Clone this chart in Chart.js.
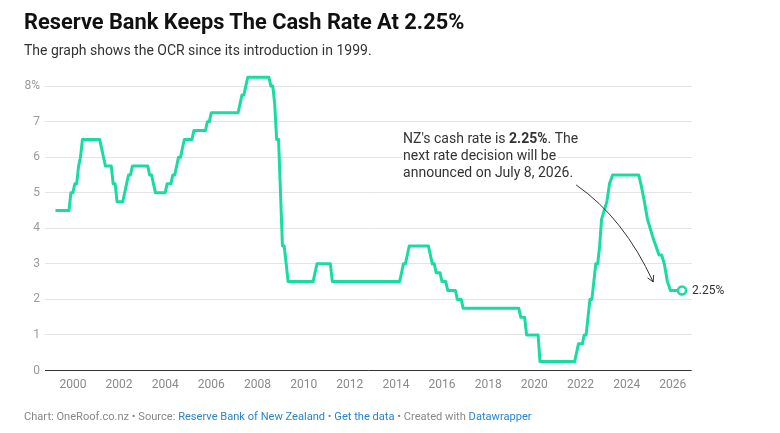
<!DOCTYPE html>
<html>
<head>
<meta charset="utf-8">
<script src="https://cdn.jsdelivr.net/npm/chart.js@4.4.1/dist/chart.umd.min.js"></script>
<style>
  html, body { margin: 0; padding: 0; background: #fff; }
  #wrap { position: relative; width: 780px; height: 433px; overflow: hidden; font-family: Roboto, "Noto Sans", sans-serif; }
  #chartBox { position: absolute; left: 0; top: 0; width: 780px; height: 433px; }
  .title { position: absolute; left: 24px; top: 11px; font-size: 21.8px; line-height: 22px; font-weight: 700; color: #111; white-space: nowrap; }
  .subtitle { position: absolute; left: 24px; top: 43px; font-size: 14px; line-height: 14px; color: #333; white-space: nowrap; }
  .footer { position: absolute; left: 24px; top: 411px; font-size: 11.1px; line-height: 11px; color: #888; white-space: nowrap; }
  .footer a { color: #2a84cc; text-decoration: none; }
</style>
</head>
<body>
<div id="wrap">
  <div id="chartBox"><canvas id="c"></canvas></div>
  <div class="title">Reserve Bank Keeps The Cash Rate At 2.25%</div>
  <div class="subtitle">The graph shows the OCR since its introduction in 1999.</div>
  <div class="footer">Chart: OneRoof.co.nz • Source: <a>Reserve Bank of New Zealand</a> • <a>Get the data</a> • Created with <a>Datawrapper</a></div>
</div>
<script>
// ---- data ----
const dates = [
  '1999-03-31','1999-10-31','1999-11-30','1999-12-31','2000-01-31','2000-02-29','2000-03-31','2000-04-30','2000-05-31',
  '2001-02-28','2001-03-31','2001-04-30','2001-05-31','2001-08-31','2001-09-30','2001-10-31','2001-11-30',
  '2002-02-28','2002-03-31','2002-04-30','2002-05-31','2002-06-30','2002-07-31',
  '2003-03-31','2003-04-30','2003-05-31','2003-06-30','2003-07-31','2003-12-31',
  '2004-01-31','2004-03-31','2004-04-30','2004-05-31','2004-06-30','2004-07-31','2004-08-31','2004-09-30','2004-10-31',
  '2005-02-28','2005-03-31','2005-09-30','2005-10-31','2005-11-30','2005-12-31',
  '2007-02-28','2007-03-31','2007-04-30','2007-05-31','2007-06-30','2007-07-31',
  '2008-06-30','2008-07-31','2008-08-31','2008-09-30','2008-10-31','2008-11-30','2008-12-31',
  '2009-01-31','2009-02-28','2009-03-31','2009-04-30',
  '2010-05-31','2010-06-30','2010-07-31','2011-02-28','2011-03-31',
  '2014-02-28','2014-03-31','2014-04-30','2014-05-31','2014-06-30','2014-07-31',
  '2015-05-31','2015-06-30','2015-07-31','2015-08-31','2015-09-30','2015-11-30','2015-12-31',
  '2016-02-29','2016-03-31','2016-07-31','2016-08-31','2016-10-31','2016-11-30',
  '2019-04-30','2019-05-31','2019-07-31','2019-08-31','2020-02-29','2020-03-31',
  '2021-09-30','2021-10-31','2021-11-30','2022-01-31','2022-02-28','2022-03-31','2022-04-30','2022-05-31',
  '2022-06-30','2022-07-31','2022-08-31','2022-09-30','2022-10-31','2022-11-30',
  '2023-02-22','2023-04-05','2023-05-24','2024-07-10','2024-08-14','2024-10-09','2024-11-27',
  '2025-02-19','2025-04-09','2025-05-28','2025-07-09','2025-08-20','2025-10-08','2025-11-26','2026-05-27'
];
const ocr = [
  4.50,4.50,5.00,5.00,5.25,5.25,5.75,6.00,6.50,
  6.50,6.25,6.00,5.75,5.75,5.25,5.25,4.75,
  4.75,5.00,5.25,5.50,5.50,5.75,
  5.75,5.50,5.50,5.25,5.00,5.00,
  5.25,5.25,5.50,5.50,5.75,6.00,6.00,6.25,6.50,
  6.50,6.75,6.75,7.00,7.00,7.25,
  7.25,7.50,7.75,7.75,8.00,8.25,
  8.25,8.00,8.00,7.50,6.50,6.50,5.00,
  3.50,3.50,3.00,2.50,
  2.50,2.75,3.00,3.00,2.50,
  2.50,2.75,3.00,3.00,3.25,3.50,
  3.50,3.25,3.00,3.00,2.75,2.75,2.50,
  2.50,2.25,2.25,2.00,2.00,1.75,
  1.75,1.50,1.50,1.00,1.00,0.25,
  0.25,0.50,0.75,0.75,1.00,1.00,1.50,2.00,
  2.00,2.50,3.00,3.00,3.50,4.25,
  4.75,5.25,5.50,5.50,5.25,4.75,4.25,
  3.75,3.50,3.25,3.25,3.00,2.50,2.25,2.25
];
const xTickYears = [2000,2002,2004,2006,2008,2010,2012,2014,2016,2018,2020,2022,2024,2026];
const yTickValues = [0,1,2,3,4,5,6,7,8];
const xMin = 1998.79, xMax = 2026.82, yMin = 0, yMax = 8.25;
const endLabel = '2.25%';
const noteLines = [
  [{t: "NZ's cash rate is ", b: false}, {t: '2.25%', b: true}, {t: '. The', b: false}],
  [{t: 'next rate decision will be', b: false}],
  [{t: 'announced on July 8, 2026.', b: false}]
];
// annotation anchors in data units (year, rate)
const noteAnchor = {x: 2014.31, y: 6.41};
const arrowFrom = {x: 2021.81, y: 5.22};
const arrowCtrl = {x: 2023.88, y: 4.29};
const arrowTo = {x: 2025.15, y: 2.49};

// ---- helpers ----
function toYear(d) {
  const [y, m, day] = d.split('-').map(Number);
  const s = Date.UTC(y, 0, 1), e = Date.UTC(y + 1, 0, 1);
  return y + (Date.UTC(y, m - 1, day) - s) / (e - s);
}
const points = dates.map((d, i) => ({x: toYear(d), y: ocr[i]}));
const GREEN = '#1adca3';
const FONT = 'Roboto, "Noto Sans", sans-serif';

const overlay = {
  id: 'overlay',
  afterDatasetsDraw(chart) {
    const {ctx, scales: {x, y}} = chart;
    ctx.save();
    // arrow
    const p0 = {x: x.getPixelForValue(arrowFrom.x), y: y.getPixelForValue(arrowFrom.y)};
    const pc = {x: x.getPixelForValue(arrowCtrl.x), y: y.getPixelForValue(arrowCtrl.y)};
    const p1 = {x: x.getPixelForValue(arrowTo.x), y: y.getPixelForValue(arrowTo.y)};
    ctx.strokeStyle = '#333';
    ctx.lineWidth = 1;
    ctx.beginPath();
    ctx.moveTo(p0.x, p0.y);
    ctx.quadraticCurveTo(pc.x, pc.y, p1.x, p1.y);
    ctx.stroke();
    const ang = Math.atan2(p1.y - pc.y, p1.x - pc.x);
    const L = 7, spread = 0.5;
    ctx.beginPath();
    ctx.moveTo(p1.x - L * Math.cos(ang - spread), p1.y - L * Math.sin(ang - spread));
    ctx.lineTo(p1.x, p1.y);
    ctx.lineTo(p1.x - L * Math.cos(ang + spread), p1.y - L * Math.sin(ang + spread));
    ctx.stroke();

    // note text with white halo
    const tx = x.getPixelForValue(noteAnchor.x);
    let ty = y.getPixelForValue(noteAnchor.y);
    ctx.textBaseline = 'alphabetic';
    ctx.textAlign = 'left';
    ctx.lineJoin = 'round';
    noteLines.forEach(line => {
      let cx = tx;
      line.forEach(seg => {
        ctx.font = (seg.b ? '700 ' : '400 ') + '14px ' + FONT;
        ctx.strokeStyle = '#fff';
        ctx.lineWidth = 4;
        ctx.strokeText(seg.t, cx, ty);
        ctx.fillStyle = '#333';
        ctx.fillText(seg.t, cx, ty);
        cx += ctx.measureText(seg.t).width;
      });
      ty += 17;
    });

    // end label
    const last = points[points.length - 1];
    ctx.font = '400 12px ' + FONT;
    ctx.textBaseline = 'middle';
    ctx.fillStyle = '#333';
    ctx.fillText(endLabel, x.getPixelForValue(last.x) + 10, y.getPixelForValue(last.y));
    ctx.restore();
  }
};

new Chart(document.getElementById('c'), {
  type: 'line',
  data: {
    datasets: [{
      data: points,
      borderColor: GREEN,
      borderWidth: 3,
      borderJoinStyle: 'round',
      tension: 0,
      clip: false,
      pointRadius: c => c.dataIndex === points.length - 1 ? 4 : 0,
      pointHoverRadius: 0,
      pointBackgroundColor: '#fff',
      pointBorderColor: GREEN,
      pointBorderWidth: 2.5
    }]
  },
  options: {
    responsive: true,
    maintainAspectRatio: false,
    animation: false,
    events: [],
    layout: {padding: {top: 77.2, right: 88.3, left: 0, bottom: 0}},
    plugins: {legend: {display: false}, tooltip: {enabled: false}},
    scales: {
      x: {
        type: 'linear', min: xMin, max: xMax,
        grid: {display: false, drawTicks: false},
        border: {display: false},
        afterBuildTicks: s => { s.ticks = xTickYears.map(v => ({value: v})); },
        afterFit: s => { s.height = 62.5; },
        ticks: {
          autoSkip: false, maxRotation: 0, padding: 7,
          color: '#8a8a8a', font: {family: FONT, size: 12},
          callback: v => String(v)
        }
      },
      y: {
        min: yMin, max: yMax,
        afterBuildTicks: s => { s.ticks = yTickValues.map(v => ({value: v})); },
        afterFit: s => { s.width = 45; },
        grid: {
          drawTicks: false, lineWidth: 1,
          color: c => (c.tick && c.tick.value === 0) ? '#333' : '#e4e4e4'
        },
        border: {display: false},
        ticks: {
          padding: 5, color: '#9a9a9a', font: {family: FONT, size: 12},
          callback: v => v === yTickValues[yTickValues.length - 1] ? v + '%' : String(v)
        }
      }
    }
  },
  plugins: [overlay]
});
</script>
</body>
</html>
